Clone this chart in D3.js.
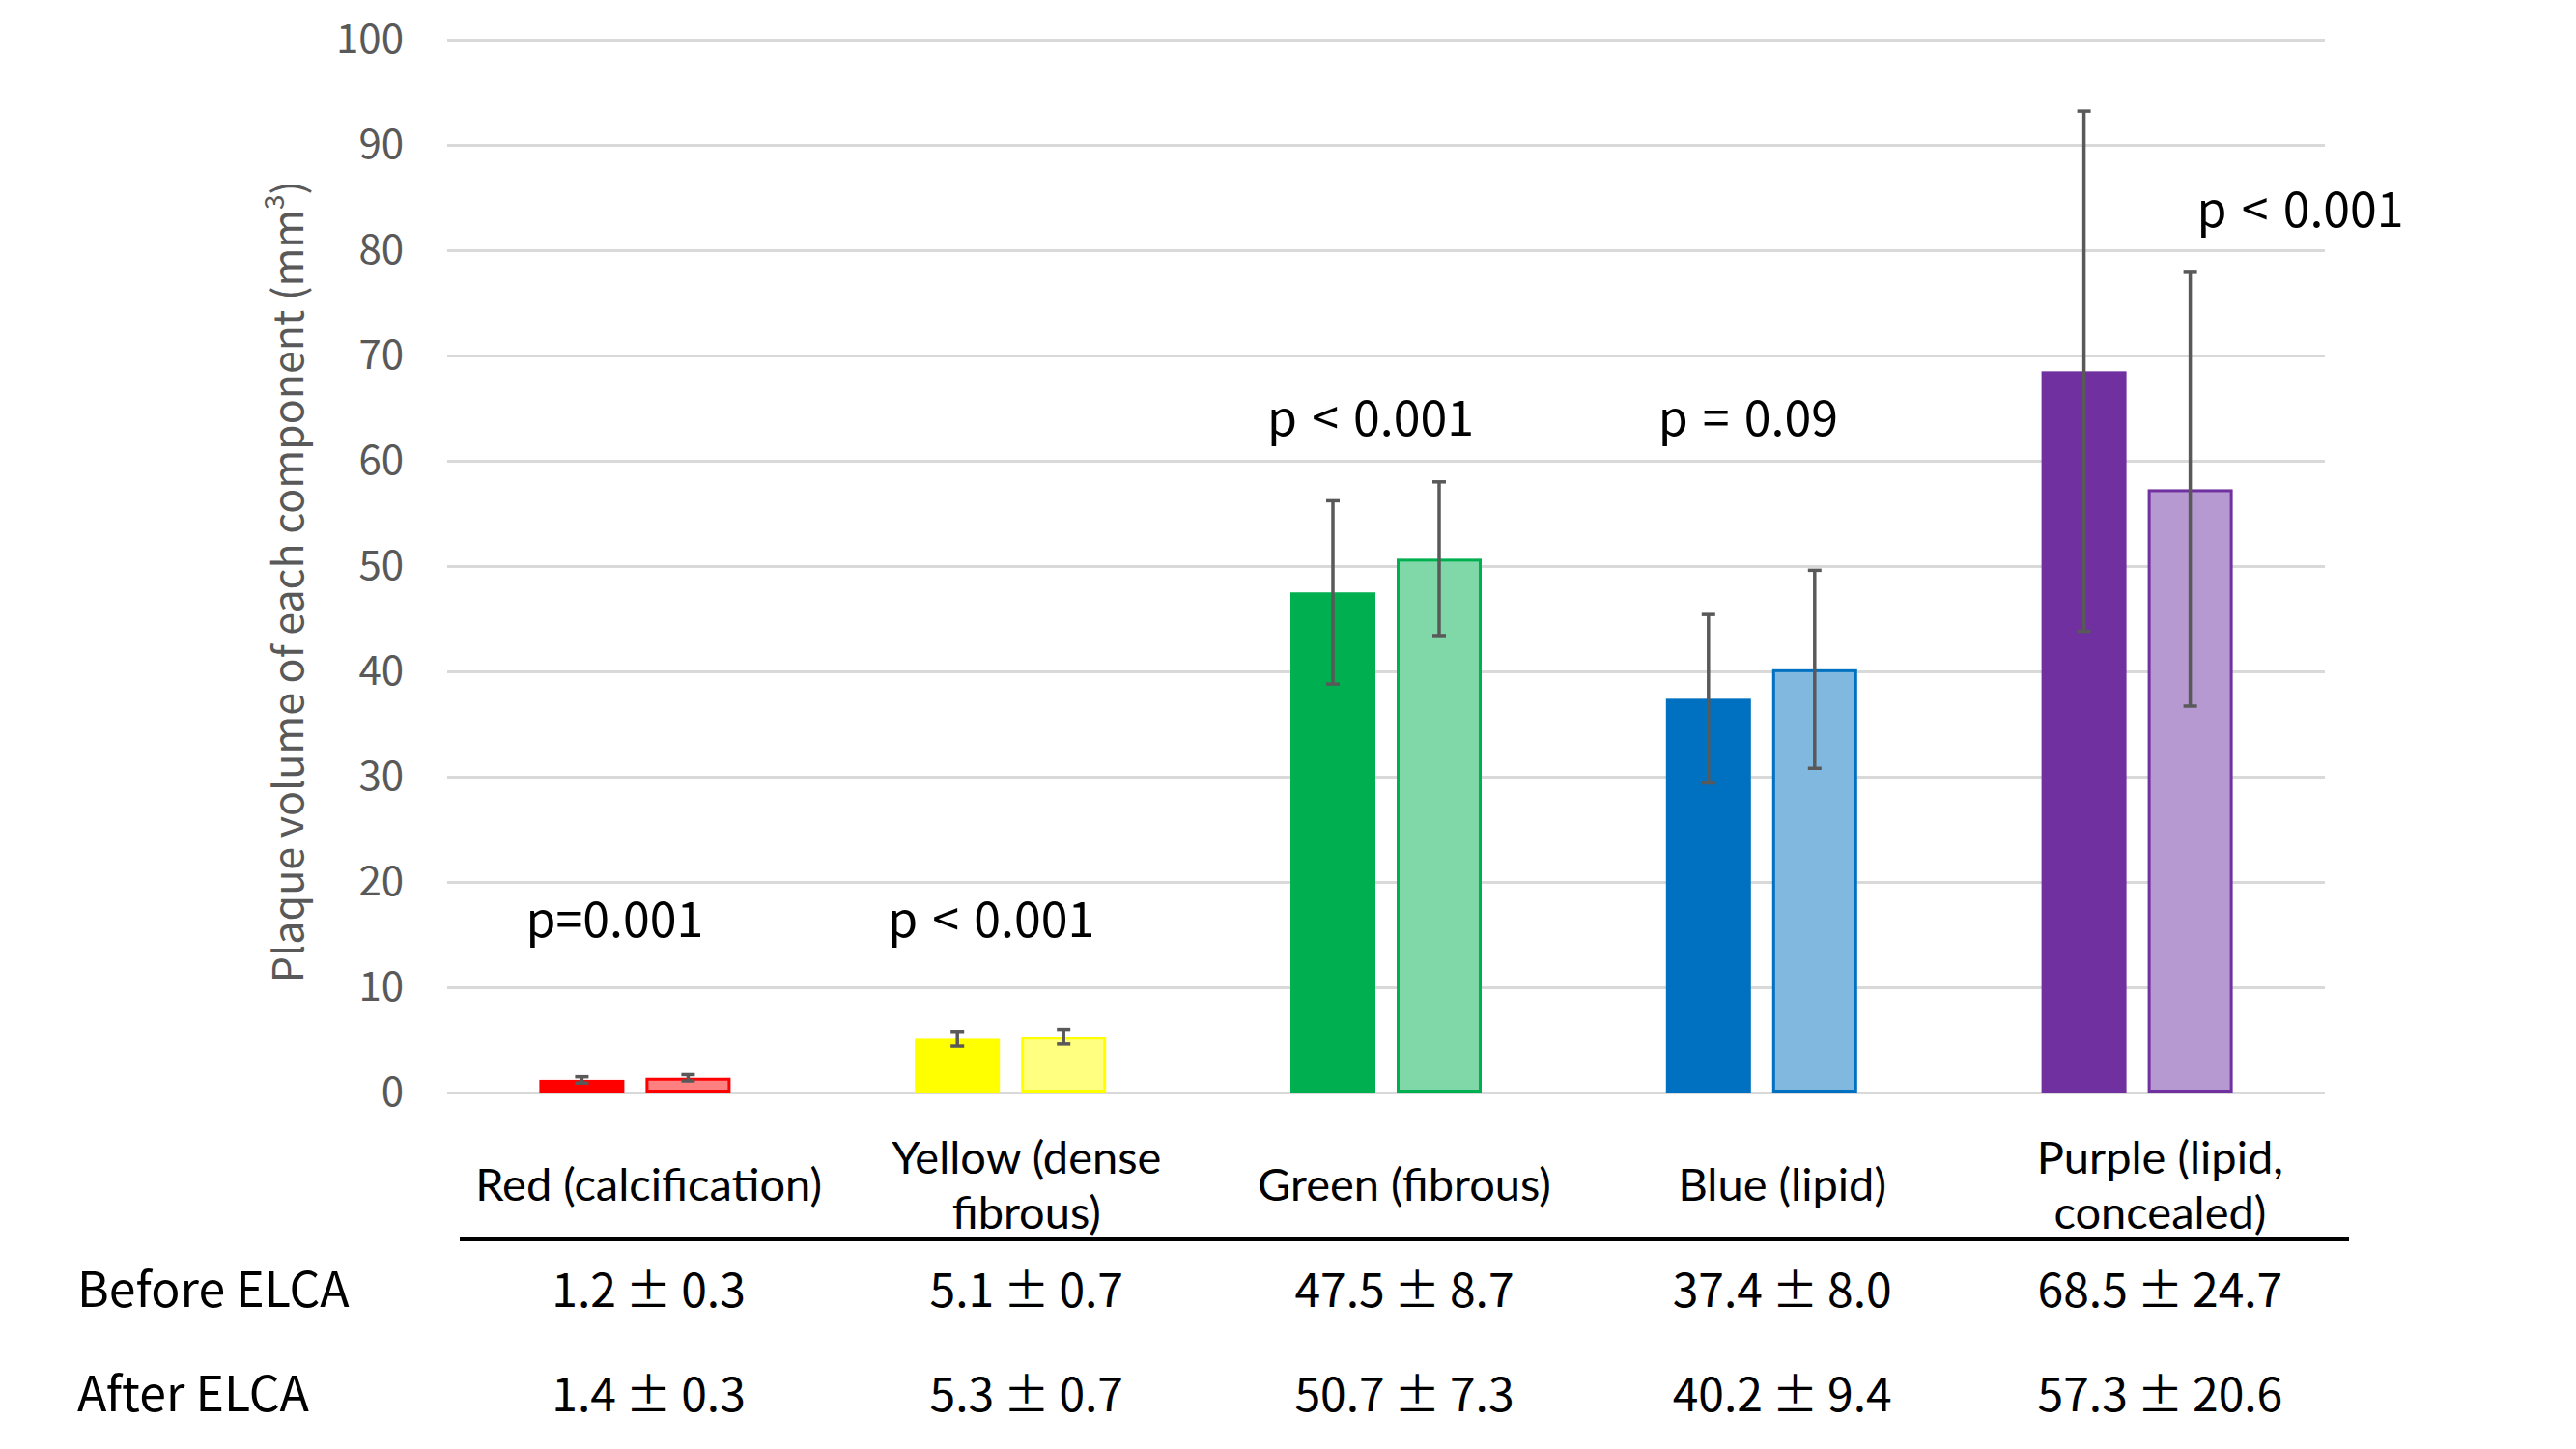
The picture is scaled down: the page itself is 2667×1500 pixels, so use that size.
<!DOCTYPE html>
<html>
<head>
<meta charset="utf-8">
<script src="https://cdn.jsdelivr.net/npm/d3@7"></script>
<style>
  body { margin: 0; background: #fff; }
  svg text { font-family: "Noto Sans CJK JP", "Noto Sans", sans-serif; }
  svg text.catlab { font-family: Lato, "Noto Sans", sans-serif; }
</style>
</head>
<body>
<svg id="chart" width="2667" height="1500"></svg>
<script>
// data
var categories = ["Red (calcification)", "Yellow (dense fibrous)", "Green (fibrous)", "Blue (lipid)", "Purple (lipid, concealed)"];
var labelLines = [["Red (calcification)"], ["Yellow (dense", "fibrous)"], ["Green (fibrous)"], ["Blue (lipid)"], ["Purple (lipid,", "concealed)"]];
var beforeMean = [1.2, 5.1, 47.5, 37.4, 68.5];
var beforeSD   = [0.3, 0.7, 8.7, 8.0, 24.7];
var afterMean  = [1.4, 5.3, 50.7, 40.2, 57.3];
var afterSD    = [0.3, 0.7, 7.3, 9.4, 20.6];
var pTexts     = ["p=0.001", "p < 0.001", "p < 0.001", "p = 0.09", "p < 0.001"];
var pLevels    = [14.8, 14.8, 62.4, 62.4, 82.2];   // value height the p text sits at
var yTicks     = [0, 10, 20, 30, 40, 50, 60, 70, 80, 90, 100];
var rowNames   = ["Before ELCA", "After ELCA"];

(function() {
    var baseColors  = ["#ff0000", "#ffff00", "#00b050", "#0070c0", "#7030a0"];
    var lightColors = ["#ff8080", "#ffff80", "#80d8a8", "#80b8e0", "#b699d0"];
    var pShift = [-21, -20, -16, -14, 169];   // x nudge of each p label from group centre

    var plot = {left: 463, right: 2407, top: 41, bottom: 1131};
    var table = {left: 476, right: 2432};

    var svg = d3.select("#chart");

    var x = d3.scaleBand()
      .domain(categories)
      .range([plot.left, plot.right]);

    var y = d3.scaleLinear()
      .domain([0, 100])
      .range([plot.bottom, plot.top]);

    var col = d3.scaleBand()
      .domain(categories)
      .range([table.left, table.right]);

    //gridlines + tick labels
    var yAxis = d3.axisLeft(y)
      .tickValues(yTicks)
      .tickSize(-(plot.right - plot.left))
      .tickPadding(45);

    var ga = svg.append("g")
      .attr("transform", "translate(" + plot.left + ",0)")
      .call(yAxis);
    ga.select(".domain").remove();
    ga.selectAll(".tick line").attr("stroke", "#d9d9d9").attr("stroke-width", 3);
    ga.selectAll(".tick text")
      .attr("fill", "#595959")
      .style("font-size", "42px");

    // y title
    svg.append("text")
      .attr("transform", "translate(314,602) rotate(-90)")
      .attr("text-anchor", "middle")
      .attr("fill", "#595959")
      .style("font-size", "43px")
      .text("Plaque volume of each component (mm")
      .append("tspan").attr("baseline-shift", "super").style("font-size", "28px").text("3")
      .select(function() { return this.parentNode; })
      .append("tspan").text(")");

    var barW = 88, gap = 22;
    var bars = [];
    categories.forEach(function(c, i) {
      bars.push({cat: c, i: i, v: beforeMean[i], sd: beforeSD[i], side: -1, fill: baseColors[i], stroke: baseColors[i]});
      bars.push({cat: c, i: i, v: afterMean[i], sd: afterSD[i], side: 1, fill: lightColors[i], stroke: baseColors[i]});
    });

    function barX(d) {
      var cx = x(d.cat) + x.bandwidth() / 2;
      return d.side < 0 ? cx - gap / 2 - barW : cx + gap / 2;
    }

    svg.append("g").selectAll("rect")
      .data(bars)
      .join("rect")
        .attr("x", function(d) { return barX(d) + (d.side > 0 ? 1.5 : 0); })
        .attr("y", function(d) { return y(d.v) + (d.side > 0 ? 1.5 : 0); })
        .attr("width", function(d) { return d.side > 0 ? barW - 3 : barW; })
        .attr("height", function(d) { return y(0) - y(d.v) - (d.side > 0 ? 3 : 0); })
        .attr("fill", function(d) { return d.fill; })
        .attr("stroke", function(d) { return d.side > 0 ? d.stroke : "none"; })
        .attr("stroke-width", 3);

    // error bars
    var eb = svg.append("g").selectAll("g")
      .data(bars)
      .join("g")
        .attr("stroke", "#595959")
        .attr("stroke-width", 3.5);
    eb.append("line")
      .attr("x1", function(d) { return barX(d) + barW / 2; })
      .attr("x2", function(d) { return barX(d) + barW / 2; })
      .attr("y1", function(d) { return y(d.v - d.sd); })
      .attr("y2", function(d) { return y(d.v + d.sd); });
    eb.selectAll("line.cap")
      .data(function(d) { return [d.v - d.sd, d.v + d.sd].map(function(v) { return {v: v, d: d}; }); })
      .join("line")
        .attr("class", "cap")
        .attr("x1", function(e) { return barX(e.d) + barW / 2 - 7; })
        .attr("x2", function(e) { return barX(e.d) + barW / 2 + 7; })
        .attr("y1", function(e) { return y(e.v); })
        .attr("y2", function(e) { return y(e.v); });

    // p values
    svg.append("g").selectAll("text")
      .data(pTexts)
      .join("text")
        .attr("x", function(d, i) { return x(categories[i]) + x.bandwidth() / 2 + pShift[i]; })
        .attr("y", function(d, i) { return y(pLevels[i]); })
        .attr("text-anchor", "middle")
        .attr("fill", "#000")
        .style("font-size", "50px")
        .style("word-spacing", "4px")
        .text(function(d) { return d; });

    // table under the chart
    var lab = svg.append("g").selectAll("text")
      .data(labelLines)
      .join("text")
        .attr("class", "catlab")
        .attr("x", function(d, i) { return col(categories[i]) + col.bandwidth() / 2; })
        .attr("y", function(d) { return d.length > 1 ? 1215 : 1243; })
        .attr("text-anchor", "middle")
        .attr("fill", "#000")
        .style("font-size", "47px");
    lab.selectAll("tspan")
      .data(function(d) { return d; })
      .join("tspan")
        .attr("x", function() { return d3.select(this.parentNode).attr("x"); })
        .attr("dy", function(d, j) { return j ? 57 : 0; })
        .text(function(d) { return d; });

    svg.append("line")
      .attr("x1", table.left).attr("x2", table.right)
      .attr("y1", 1283).attr("y2", 1283)
      .attr("stroke", "#000").attr("stroke-width", 4);

    var rowY = [1353, 1461];
    var rows = [[beforeMean, beforeSD], [afterMean, afterSD]];

    svg.append("g").selectAll("text")
      .data(rowNames)
      .join("text")
        .attr("x", 80)
        .attr("y", function(d, i) { return rowY[i]; })
        .attr("fill", "#000")
        .style("font-size", "50px")
        .text(function(d) { return d; });

    rows.forEach(function(r, ri) {
      svg.append("g").selectAll("text")
        .data(categories)
        .join("text")
          .attr("x", function(c) { return col(c) + col.bandwidth() / 2; })
          .attr("y", rowY[ri])
          .attr("text-anchor", "middle")
          .attr("fill", "#000")
          .style("font-size", "48px")
          .text(function(c, i) { return r[0][i].toFixed(1) + "\u2009±\u2009" + r[1][i].toFixed(1); });
    });

})();
</script>
</body>
</html>
